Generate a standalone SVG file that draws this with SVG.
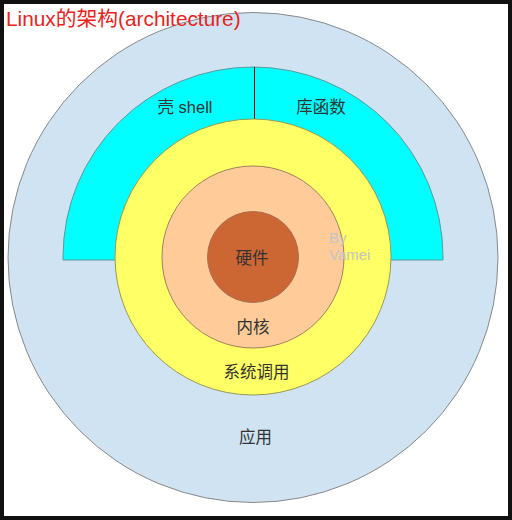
<svg xmlns="http://www.w3.org/2000/svg" width="512" height="520" viewBox="0 0 512 520">
<style>
.lbl{font-family:"Liberation Sans","Noto Sans CJK SC",sans-serif;font-size:16.5px;fill:#333;text-anchor:middle}
.wm{font-family:"Liberation Sans",sans-serif;font-size:15px;fill:#c4c4c4}
.title{font-family:"Liberation Sans","Noto Sans CJK SC",sans-serif;font-size:20.8px;fill:#e8231d}
</style>
<rect x="0" y="0" width="512" height="520" fill="#ffffff"/>
<g id="app">
<circle cx="253" cy="257.5" r="245" fill="#cfe3f2" stroke="#888" stroke-width="1"/>
<text class="lbl" x="255.5" y="443">应用</text>
</g>
<g id="shell-lib">
<path d="M63,260 L63,257 A190,190 0 0 1 443,257 L443,260 Z" fill="#00ffff" stroke="#5a9a9a" stroke-width="1"/>
<line x1="254.5" y1="67" x2="254.5" y2="120" stroke="#111" stroke-width="1"/>
<text class="lbl" x="185" y="113">壳 shell</text>
<text class="lbl" x="321" y="113">库函数</text>
</g>
<g id="syscall">
<circle cx="253" cy="257" r="138" fill="#ffff66" stroke="#9a9a55" stroke-width="1"/>
<text class="lbl" x="256.5" y="378">系统调用</text>
</g>
<g id="kernel">
<circle cx="253" cy="257" r="91" fill="#ffcc99" stroke="#a08060" stroke-width="1"/>
<text class="lbl" x="253" y="333">内核</text>
</g>
<g id="hardware">
<circle cx="253" cy="257" r="45.5" fill="#cc6633" stroke="#a87050" stroke-width="1"/>
<text class="lbl" x="252" y="264">硬件</text>
</g>
<g id="watermark">
<text class="wm" x="329" y="243">By</text>
<text class="wm" x="329" y="260">Vamei</text>
</g>
<g id="connectors"/>
<text class="title" x="6" y="26">Linux的架构(architecture)</text>
<rect x="2" y="2" width="508" height="516" fill="none" stroke="#111" stroke-width="4"/>
</svg>
